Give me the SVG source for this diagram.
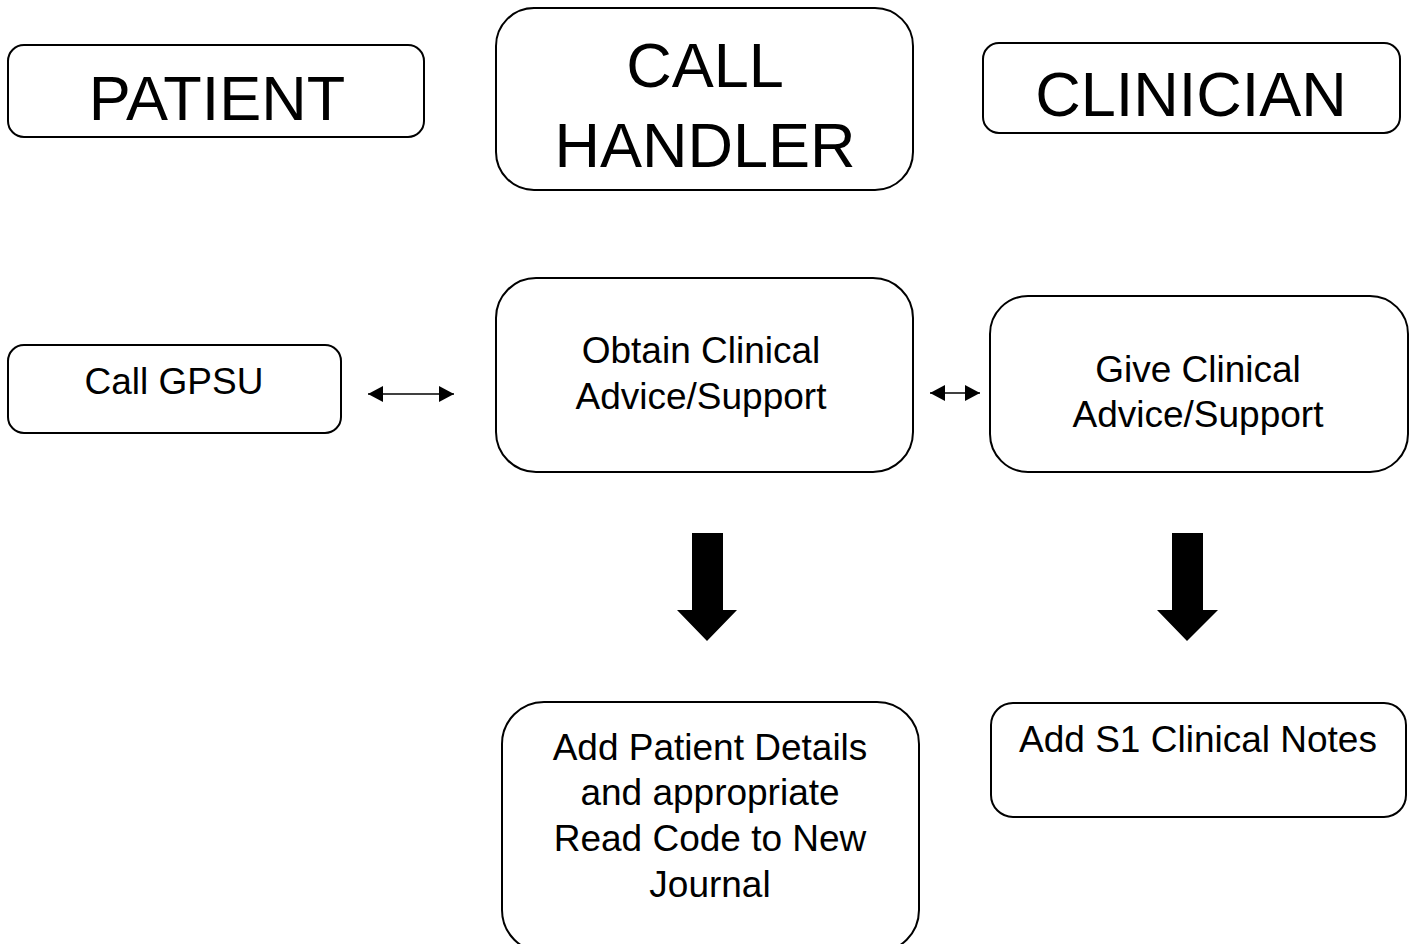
<svg xmlns="http://www.w3.org/2000/svg" width="1413" height="944" viewBox="0 0 1413 944">
<style>
.box{fill:#fff;stroke:#000;stroke-width:2}
.big{font-family:"Liberation Sans",Arial,sans-serif;font-size:63px;fill:#000;text-anchor:middle}
.sm{font-family:"Liberation Sans",Arial,sans-serif;font-size:37px;fill:#000;text-anchor:middle}
.dbl{stroke:#000;stroke-width:1.5;fill:none;marker-start:url(#ah);marker-end:url(#ah)}
.blk{fill:#000;stroke:none}
</style>
<defs>
<marker id="ah" markerUnits="userSpaceOnUse" markerWidth="15" markerHeight="16" refX="15" refY="8" orient="auto-start-reverse" viewBox="0 0 15 16">
<path d="M0,0 L15,8 L0,16 z" fill="#000"/>
</marker>
</defs>
<rect width="1413" height="944" fill="#fff"/>
<g id="patient">
<rect class="box" x="8" y="45" width="416" height="92" rx="16"/>
<text class="big" x="217" y="120">PATIENT</text>
</g>
<g id="call-handler">
<rect class="box" x="496" y="8" width="417" height="182" rx="38"/>
<text class="big" x="705" y="87">CALL</text>
<text class="big" x="705" y="167">HANDLER</text>
</g>
<g id="clinician">
<rect class="box" x="983" y="43" width="417" height="90" rx="16"/>
<text class="big" x="1191" y="116">CLINICIAN</text>
</g>
<g id="call-gpsu">
<rect class="box" x="8" y="345" width="333" height="88" rx="16"/>
<text class="sm" x="174" y="394">Call GPSU</text>
</g>
<g id="obtain">
<rect class="box" x="496" y="278" width="417" height="194" rx="40"/>
<text class="sm" x="701" y="363">Obtain Clinical</text>
<text class="sm" x="701" y="409">Advice/Support</text>
</g>
<g id="give">
<rect class="box" x="990" y="296" width="418" height="176" rx="38"/>
<text class="sm" x="1198" y="382">Give Clinical</text>
<text class="sm" x="1198" y="427">Advice/Support</text>
</g>
<g id="add-patient">
<rect class="box" x="502" y="702" width="417" height="250" rx="42"/>
<text class="sm" x="710" y="760">Add Patient Details</text>
<text class="sm" x="710" y="805">and appropriate</text>
<text class="sm" x="710" y="851">Read Code to New</text>
<text class="sm" x="710" y="897">Journal</text>
</g>
<g id="add-s1">
<rect class="box" x="991" y="703" width="415" height="114" rx="22"/>
<text class="sm" x="1198" y="752">Add S1 Clinical Notes</text>
</g>
<g id="connectors">
<line class="dbl" x1="368" y1="394" x2="454" y2="394"/>
<line class="dbl" x1="930" y1="393" x2="980" y2="393"/>
<polygon class="blk" points="692,533 723,533 723,610 737,610 707,641 677,610 692,610"/>
<polygon class="blk" points="1172,533 1203,533 1203,610 1218,610 1187,641 1157,610 1172,610"/>
</g>
</svg>
